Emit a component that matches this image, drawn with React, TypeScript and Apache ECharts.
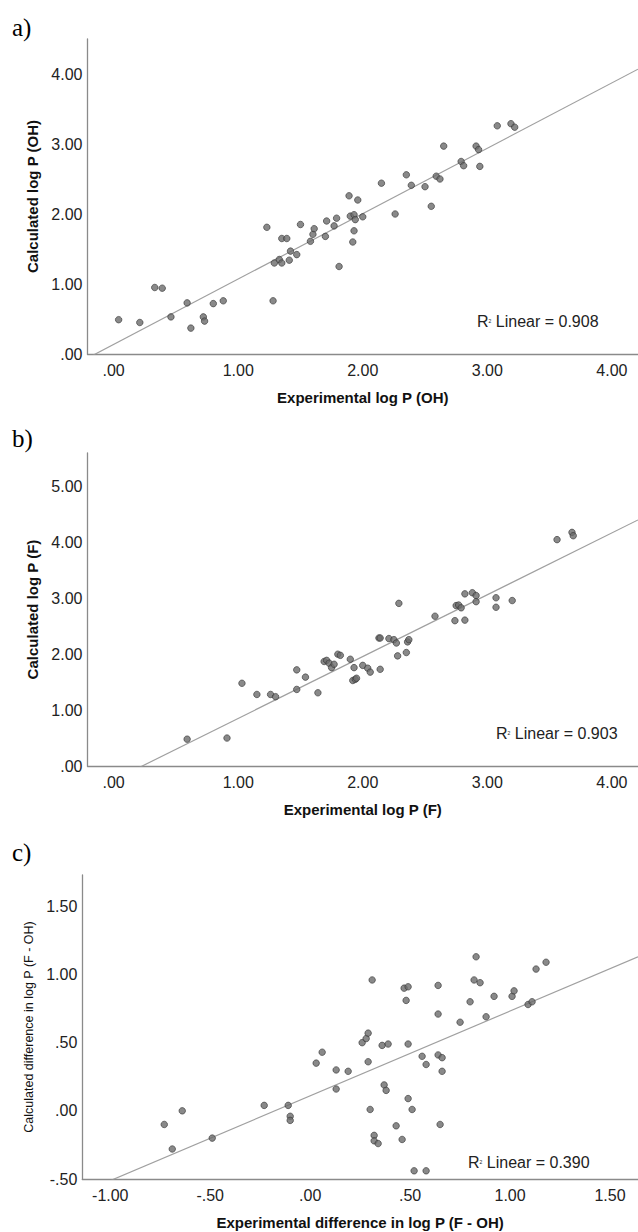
import React, { useEffect, useRef } from "react";
import * as echarts from "echarts";

// Panel a: experimental vs calculated log P (OH)
const aExp = [0.04,0.21,0.33,0.39,0.46,0.59,0.62,0.72,0.73,0.80,0.88,1.23,1.28,1.29,1.33,1.35,1.35,1.39,1.41,1.42,1.47,1.50,1.58,1.60,1.61,1.70,1.71,1.77,1.79,1.81,1.89,1.90,1.92,1.93,1.93,1.94,1.96,2.00,2.15,2.26,2.35,2.39,2.50,2.55,2.59,2.62,2.65,2.79,2.81,2.91,2.93,2.94,3.08,3.19,3.22];
const aCalc = [0.49,0.45,0.95,0.94,0.53,0.73,0.37,0.53,0.47,0.72,0.76,1.81,0.76,1.30,1.35,1.65,1.30,1.65,1.34,1.47,1.42,1.85,1.61,1.71,1.79,1.68,1.90,1.83,1.94,1.25,2.26,1.97,1.60,1.76,1.99,1.92,2.20,1.96,2.44,2.00,2.56,2.41,2.39,2.11,2.54,2.50,2.97,2.75,2.69,2.97,2.92,2.68,3.26,3.29,3.24];

// Panel b: experimental vs calculated log P (F)
const bExp = [0.59,0.91,1.03,1.15,1.26,1.30,1.47,1.47,1.54,1.64,1.69,1.71,1.73,1.75,1.77,1.80,1.82,1.90,1.92,1.93,1.94,1.95,2.00,2.04,2.06,2.13,2.14,2.14,2.21,2.25,2.27,2.28,2.29,2.35,2.36,2.37,2.58,2.74,2.75,2.77,2.79,2.82,2.82,2.88,2.91,2.91,3.07,3.07,3.20,3.56,3.68,3.69];
const bCalc = [0.48,0.50,1.48,1.28,1.28,1.24,1.72,1.37,1.59,1.31,1.87,1.89,1.84,1.76,1.82,2.00,1.98,1.91,1.53,1.76,1.55,1.57,1.80,1.75,1.68,2.29,2.29,1.73,2.28,2.26,2.20,1.97,2.91,2.03,2.22,2.26,2.68,2.60,2.87,2.88,2.83,2.61,3.08,3.10,3.05,2.94,3.01,2.84,2.96,4.05,4.18,4.12];

// Panel c: experimental vs calculated difference in log P (F - OH)
const cExp = [-0.73,-0.69,-0.64,-0.49,-0.23,-0.11,-0.10,-0.10,0.03,0.06,0.13,0.13,0.19,0.26,0.28,0.29,0.29,0.30,0.31,0.32,0.32,0.34,0.36,0.37,0.38,0.39,0.43,0.46,0.47,0.48,0.49,0.49,0.49,0.51,0.52,0.56,0.58,0.58,0.64,0.64,0.64,0.65,0.66,0.66,0.75,0.80,0.82,0.83,0.85,0.88,0.92,1.01,1.02,1.09,1.11,1.13,1.18];
const cCalc = [-0.10,-0.28,0.00,-0.20,0.04,0.04,-0.04,-0.07,0.35,0.43,0.30,0.16,0.29,0.50,0.53,0.57,0.36,0.01,0.96,-0.18,-0.22,-0.24,0.48,0.19,0.15,0.49,-0.11,-0.21,0.90,0.81,0.91,0.49,0.09,0.01,-0.44,0.40,0.34,-0.44,0.92,0.71,0.41,-0.10,0.39,0.29,0.65,0.80,0.96,1.13,0.94,0.69,0.84,0.84,0.88,0.78,0.80,1.04,1.09];

// Linear fits: [intercept, slope]
const fitA = [0.137, 0.934];
const fitB = [-0.254, 1.106];
const fitC = [0.11, 0.622];

const r2Labels = ["0.908", "0.903", "0.390"];
const panelLabels = ["a)", "b)", "c)"];
const xTicksAB = [0, 1, 2, 3, 4];
const yTicksA = [0, 1, 2, 3, 4];
const yTicksB = [0, 1, 2, 3, 4, 5];
const xTicksC = [-1, -0.5, 0, 0.5, 1, 1.5];
const yTicksC = [-0.5, 0, 0.5, 1, 1.5];

const FONT = "Liberation Sans, Arial, sans-serif";

function fmt(v: number): string {
  let s = v.toFixed(2);
  if (s.startsWith("0.")) s = s.slice(1);
  else if (s.startsWith("-0.")) s = "-" + s.slice(2);
  return s;
}

function zip(xs: number[], ys: number[]) {
  return xs.map((x, i) => [x, ys[i]]);
}

export default function App() {
  const ref = useRef<HTMLDivElement>(null);
  useEffect(() => {
    document.body.style.margin = "0";
    const chart = echarts.init(ref.current!, null, { renderer: "svg" });

    const axisLine = { show: true, onZero: false, lineStyle: { color: "#8a8a8a", width: 1.3 } };
    const mkX = (idx: number, min: number, max: number, ticks: number[], name: string) => ({
      type: "value", gridIndex: idx, min, max,
      name, nameLocation: "middle", nameGap: 36,
      nameTextStyle: { fontFamily: FONT, fontSize: 15, fontWeight: "bold", color: "#111" },
      axisLine, axisTick: { show: false }, splitLine: { show: false },
      axisLabel: { customValues: ticks, formatter: fmt, fontFamily: FONT, fontSize: 16, color: "#222", margin: 8 },
    });
    const mkY = (idx: number, min: number, max: number, ticks: number[], name: string, small = false) => ({
      type: "value", gridIndex: idx, min, max,
      name, nameLocation: "middle", nameGap: 46,
      nameTextStyle: small
        ? { fontFamily: FONT, fontSize: 12.5, color: "#111" }
        : { fontFamily: FONT, fontSize: 15, fontWeight: "bold", color: "#111" },
      axisLine, axisTick: { show: false }, splitLine: { show: false },
      axisLabel: { customValues: ticks, formatter: fmt, fontFamily: FONT, fontSize: 16, color: "#222", margin: 5 },
    });

    const xr = [[-0.21, 4.21], [-0.21, 4.21], [-1.14, 1.64]];
    const fits = [fitA, fitB, fitC];
    const pts = [zip(aExp, aCalc), zip(bExp, bCalc), zip(cExp, cCalc)];

    const series: any[] = [];
    for (let i = 0; i < 3; i++) {
      const [x0, x1] = xr[i];
      const [b0, b1] = fits[i];
      series.push({
        type: "line", xAxisIndex: i, yAxisIndex: i, clip: true, symbol: "none",
        lineStyle: { color: "#a0a0a0", width: 1.2 },
        data: [[x0, b0 + b1 * x0], [x1, b0 + b1 * x1]],
        silent: true, z: 1,
      });
      series.push({
        type: "scatter", xAxisIndex: i, yAxisIndex: i, symbol: "circle", symbolSize: 6.5,
        itemStyle: { color: "#6b6b6b", borderColor: "#333", borderWidth: 0.8 },
        data: pts[i], z: 2,
      });
    }

    const r2Pos = [[477, 321], [496, 733], [468, 1162]];
    const labelPos = [[12, 27], [12, 438], [12, 852]];
    const graphics: any[] = [];
    for (let i = 0; i < 3; i++) {
      graphics.push({
        type: "text", x: r2Pos[i][0], y: r2Pos[i][1],
        style: {
          text: "{r|R}{s|2}{r| Linear = " + r2Labels[i] + "}",
          verticalAlign: "middle",
          rich: {
            r: { fontFamily: FONT, fontSize: 16, fill: "#222" },
            s: { fontFamily: FONT, fontSize: 5, fill: "#222" },
          },
        },
      });
      graphics.push({
        type: "text", x: labelPos[i][0], y: labelPos[i][1],
        style: {
          text: panelLabels[i], fontFamily: "Liberation Serif, Times New Roman, serif",
          fontSize: 25, fill: "#000", verticalAlign: "middle",
        },
      });
    }

    chart.setOption({
      animation: false,
      backgroundColor: "#fff",
      grid: [
        { left: 87.5, top: 39, width: 550.5, height: 315 },
        { left: 87.5, top: 453, width: 550.5, height: 313 },
        { left: 82.3, top: 875, width: 555.7, height: 304 },
      ],
      xAxis: [
        mkX(0, -0.21, 4.21, xTicksAB, "Experimental log P (OH)"),
        mkX(1, -0.21, 4.21, xTicksAB, "Experimental log P (F)"),
        mkX(2, -1.14, 1.64, xTicksC, "Experimental difference in log P (F - OH)"),
      ],
      yAxis: [
        mkY(0, 0, 4.5, yTicksA, "Calculated log P (OH)"),
        mkY(1, 0, 5.6, yTicksB, "Calculated log P (F)"),
        mkY(2, -0.5, 1.73, yTicksC, "Calculated difference in log P (F - OH)", true),
      ],
      series,
      graphic: graphics,
    });
    return () => chart.dispose();
  }, []);
  return <div ref={ref} style={{ width: 638, height: 1232 }} />;
}
